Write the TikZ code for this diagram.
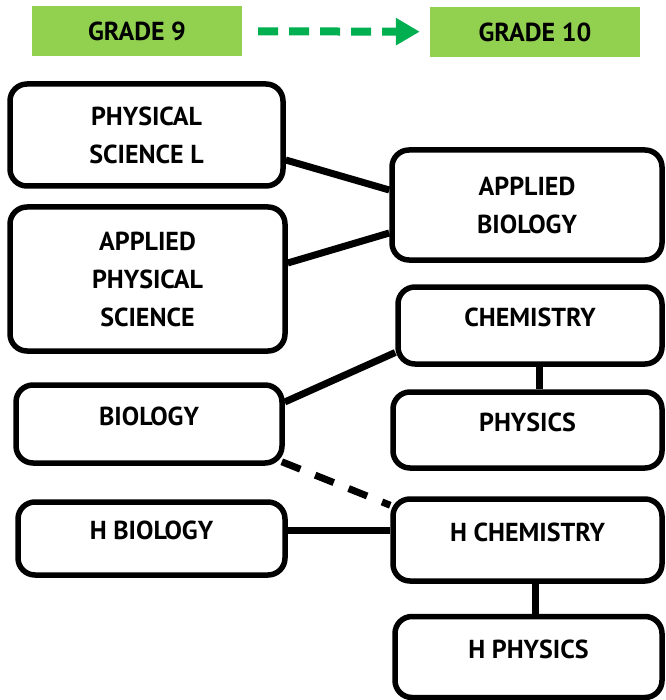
\documentclass[tikz,border=0pt]{standalone}
\usepackage{fontspec}
\setmainfont{PT Sans}
\usetikzlibrary{arrows.meta}
\definecolor{gradegreen}{HTML}{92D050}
\definecolor{arrowgreen}{HTML}{00B050}

\begin{document}
\begin{tikzpicture}[x=1pt, y=-1pt,
    grade/.style={fill=gradegreen, minimum width=210pt, minimum height=50pt,
      font=\fontsize{26}{38}\selectfont\bfseries},
    course/.style={draw, line width=5.5pt, rounded corners=17pt, align=center,
      font=\fontsize{26}{38}\selectfont\bfseries},
    single/.style={course, text depth=16pt},
    link/.style={line width=7pt},
    maybe/.style={line width=7pt, dash pattern=on 20pt off 16pt}]
      \useasboundingbox (0,0) rectangle (665,700);
      % header
      \node[grade] (g9) at (137, 31) {GRADE 9};
      \node[grade] (g10) at (535, 32) {GRADE 10};
      \draw[arrowgreen, line width=8pt, dash pattern=on 20pt off 11pt,
        -{Triangle[length=24pt,width=26pt]}, shorten <=16pt, shorten >=10pt]
        (g9) -- (g10);
      % grade 9
      \node[course, minimum width=273pt, minimum height=102pt] (psl) at (146.5, 135) {PHYSICAL\\SCIENCE L};
      \node[course, minimum width=275pt, minimum height=144pt] (aps) at (147.5, 279) {APPLIED\\PHYSICAL\\SCIENCE};
      \node[single, minimum width=266pt, minimum height=78pt] (bio) at (149, 424) {BIOLOGY};
      \node[single, minimum width=267pt, minimum height=73pt] (hbio) at (151.5, 538.5) {H BIOLOGY};
      % grade 10
      \node[course, minimum width=270pt, minimum height=110pt] (ab) at (527, 205) {APPLIED\\BIOLOGY};
      \node[single, minimum width=264pt, minimum height=77pt] (chem) at (530, 325.5) {CHEMISTRY};
      \node[single, minimum width=269pt, minimum height=76pt] (phys) at (527.5, 430) {PHYSICS};
      \node[single, minimum width=269pt, minimum height=82pt] (hchem) at (527.5, 540) {H CHEMISTRY};
      \node[single, minimum width=267pt, minimum height=81pt] (hphys) at (528.5, 657) {H PHYSICS};
      % links
      \draw[link] ([yshift=-25pt]psl.east) -- ([yshift=15pt]ab.west);
      \draw[link] ([yshift=16pt]aps.east) -- ([yshift=-28pt]ab.west);
      \draw[link] ([yshift=22pt]bio.east) -- ([yshift=-27pt]chem.west);
      \draw[maybe] ([shift={(-3pt,4pt)}]bio.south east) -- ([yshift=-9pt]hchem.north west);
      \draw[link] ([yshift=8pt]hbio.east) -- ([yshift=8pt]hbio.east -| hchem.west);
      \draw[link] ([xshift=9pt]chem.south) -- ([xshift=9pt]chem.south |- phys.north);
      \draw[link] ([xshift=8pt]hchem.south) -- ([xshift=8pt]hchem.south |- hphys.north);
\end{tikzpicture}
\end{document}
